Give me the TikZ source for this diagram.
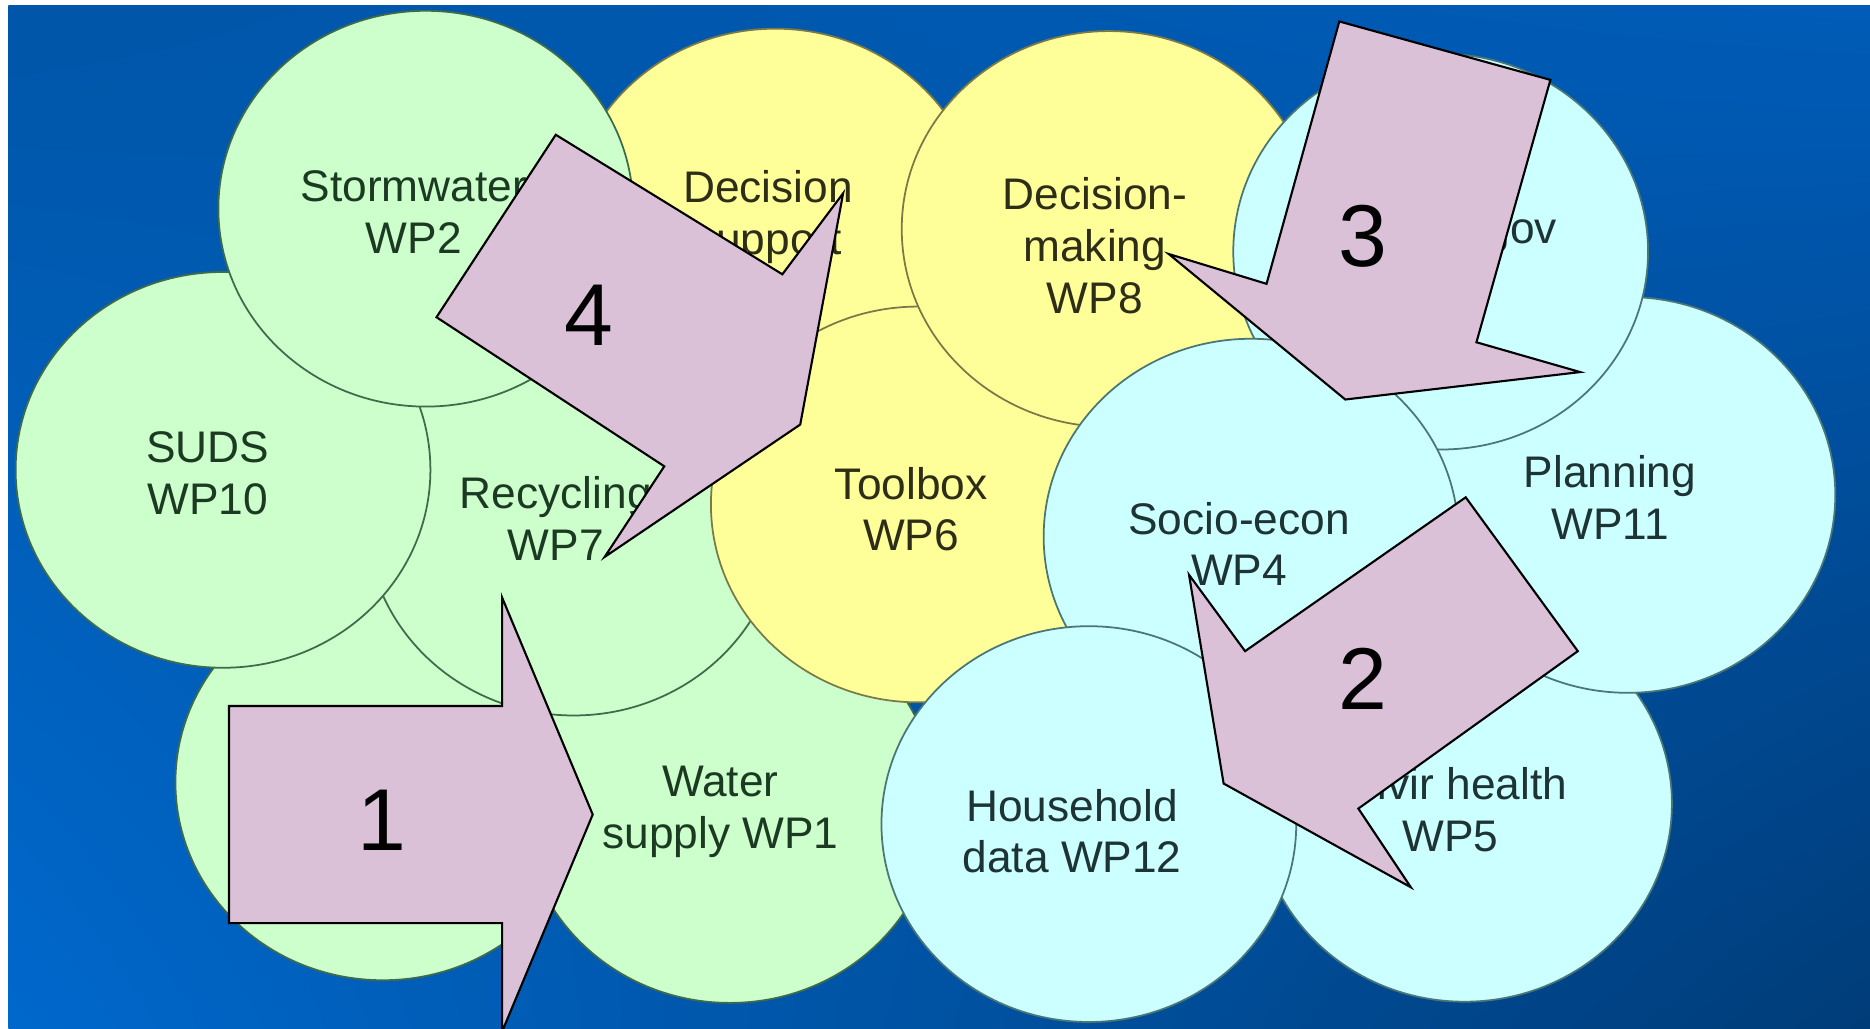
\documentclass[tikz,border=0pt]{standalone}
\usepackage{fontspec}
\setmainfont{Liberation Sans}
\usetikzlibrary{shadings}
\definecolor{wpgreen}{HTML}{CCFFCC}
\definecolor{wpyellow}{HTML}{FFFF99}
\definecolor{wpcyan}{HTML}{CCFFFF}
\definecolor{wpgreenline}{HTML}{3F6B4A}
\definecolor{wpyellowline}{HTML}{7A7A48}
\definecolor{wpcyanline}{HTML}{4A7676}
\definecolor{wpgreentext}{HTML}{1C3A22}
\definecolor{wpyellowtext}{HTML}{2E2E18}
\definecolor{wpcyantext}{HTML}{1E3333}
\definecolor{arrowpink}{HTML}{DBC1D7}
\definecolor{bgtl}{HTML}{0056A8}
\definecolor{bgtr}{HTML}{005CB8}
\definecolor{bgbl}{HTML}{0068CC}
\definecolor{bgbr}{HTML}{003C78}

\begin{document}
\begin{tikzpicture}[x=0.011926cm, y=-0.011926cm,
  greenwp/.style={fill=wpgreen, draw=wpgreenline, line width=0.5pt},
  yellowwp/.style={fill=wpyellow, draw=wpyellowline, line width=0.5pt},
  cyanwp/.style={fill=wpcyan, draw=wpcyanline, line width=0.5pt},
  wplabel/.style={font=\fontsize{12.6}{14.7}\selectfont, align=center, inner sep=0pt},
  blockarrow/.style={fill=arrowpink, draw=black, line width=0.6pt, line join=miter},
  stepnum/.style={font=\fontsize{25}{30}\selectfont, inner sep=0pt}]

  % ---- Page / background ---------------------------------------
  \useasboundingbox (0,0) rectangle (1568,862);
  \fill[white] (0,0) rectangle (1568,862);
  \shade[upper left=bgtl, upper right=bgtr, lower left=bgbl, lower right=bgbr]
    (7,5) rectangle (1568,862);

  % ============================================================
  %  Work package bubbles (back to front)
  % ============================================================
  \path[yellowwp] (650,190) ellipse [x radius=2.075cm, y radius=1.98cm];  % decision support
  \path[greenwp]  (321,656) ellipse [x radius=2.075cm, y radius=1.98cm];  % behind arrow 1
  \path[greenwp]  (612,675) ellipse [x radius=2.075cm, y radius=1.98cm];  % water supply
  \path[greenwp]  (481,434) ellipse [x radius=2.075cm, y radius=1.98cm];  % recycling
  \path[greenwp]  (187,394) ellipse [x radius=2.075cm, y radius=1.98cm];  % SUDS
  \path[greenwp]  (357,175) ellipse [x radius=2.075cm, y radius=1.98cm];  % stormwater
  \path[yellowwp] (770,423) ellipse [x radius=2.075cm, y radius=1.98cm];  % toolbox
  \path[yellowwp] (930,192) ellipse [x radius=2.075cm, y radius=1.98cm];  % decision-making
  \path[cyanwp]   (1228,674) ellipse [x radius=2.075cm, y radius=1.98cm]; % envir health
  \path[cyanwp]   (1365,415) ellipse [x radius=2.075cm, y radius=1.98cm]; % planning
  \path[cyanwp]   (1208,211) ellipse [x radius=2.075cm, y radius=1.98cm]; % env gov
  \path[cyanwp]   (1049,450) ellipse [x radius=2.075cm, y radius=1.98cm]; % socio-econ
  \path[cyanwp]   (913,691) ellipse [x radius=2.075cm, y radius=1.98cm];  % household

  % ---- Labels --------------------------------------------------
  \node[wplabel, text=wpgreentext] (storm) at (347,178) {Stormwater\\WP2};
  \node[wplabel, text=wpgreentext] (suds) at (174,397) {SUDS\\WP10};
  \node[wplabel, text=wpgreentext] (recyc) at (466,435) {Recycling\\WP7};
  \node[wplabel, text=wpgreentext] (water) at (604,681) {Water\\supply WP1};
  \node[wplabel, text=wpyellowtext] (decsup) at (644,182) {Decision\\support};
  \node[wplabel, text=wpyellowtext] (decmak) at (918,206) {Decision-\\making\\WP8};
  \node[wplabel, text=wpyellowtext] (tool) at (764,427) {Toolbox\\WP6};
  \node[wplabel, text=wpcyantext] (socio) at (1039,456) {Socio-econ\\WP4};
  \node[wplabel, text=wpcyantext] (plan) at (1350,417) {Planning\\WP11};
  \node[wplabel, text=wpcyantext] (house) at (899,697) {Household\\data WP12};
  \node[wplabel, text=wpcyantext] (health) at (1216,679) {Envir health\\WP5};
  \node[wplabel, text=wpcyantext, anchor=base east] (gov) at (1306,204) {Env gov};

  % ============================================================
  %  Numbered block arrows
  % ============================================================
  % 1: into water supply
  \filldraw[blockarrow] (192,592) -- (421,592) -- (421,501) -- (497,683)
    -- (421,865) -- (421,774) -- (192,774) -- cycle;
  \node[stepnum] (one) at (320,688) {1};
  % 2: socio-econ down to household
  \filldraw[blockarrow] (1229,417) -- (1323,546) -- (1139,678) -- (1183,744)
    -- (1026,657) -- (997,482) -- (1044,546) -- cycle;
  \node[stepnum] (two) at (1143,569) {2};
  % 3: down towards socio-econ
  \filldraw[blockarrow] (1123,18) -- (1300,67) -- (1238,287) -- (1325,312)
    -- (1128,335) -- (980,213) -- (1062,238) -- cycle;
  \node[stepnum] (three) at (1143,198) {3};
  % 4: into the toolbox
  \filldraw[blockarrow] (466,113) -- (656,230) -- (707,162) -- (671,356)
    -- (507,467) -- (557,391) -- (366,266) -- cycle;
  \node[stepnum] (four) at (494,264) {4};

\end{tikzpicture}
\end{document}
